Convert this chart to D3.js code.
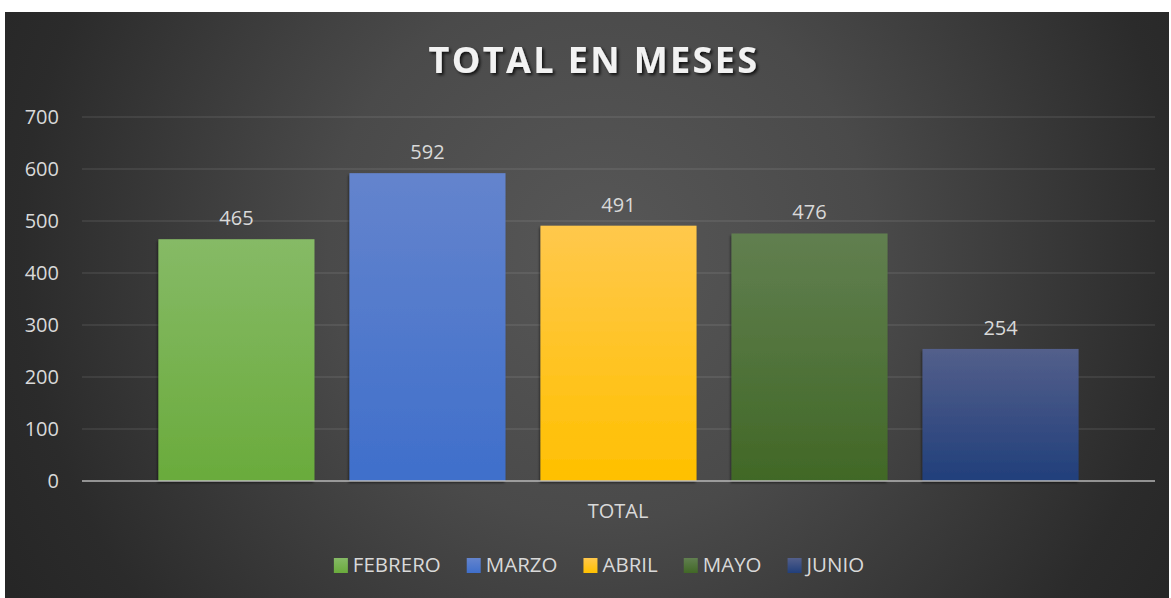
<!DOCTYPE html>
<html>
<head>
<meta charset="utf-8">
<script src="https://cdn.jsdelivr.net/npm/d3@7"></script>
<style>
  body { margin: 0; background: #fff; }
  text { font-family: "Open Sans", "Noto Sans", sans-serif; }
</style>
</head>
<body>
<div id="chart"></div>
<script>
"use strict";

// data
var months = ["FEBRERO", "MARZO", "ABRIL", "MAYO", "JUNIO"];
var totals = [465, 592, 491, 476, 254];
var yTicks = [0, 100, 200, 300, 400, 500, 600, 700];
var category = "TOTAL";
var title = "TOTAL EN MESES";
// [top, bottom] of each bar gradient
var barColors = [
  ["#86ba66", "#6aab3c"],
  ["#6484cd", "#3f6fcb"],
  ["#ffc84c", "#ffc000"],
  ["#617f50", "#416826"],
  ["#535f8b", "#213f7b"]
];

var width = 1171, height = 598;
var svg = d3.select("#chart").append("svg")
  .attr("width", width)
  .attr("height", height);

var defs = svg.append("defs");

var bg = defs.append("radialGradient")
  .attr("id", "bg")
  .attr("gradientUnits", "userSpaceOnUse")
  .attr("cx", 600).attr("cy", 250).attr("r", 680);
bg.append("stop").attr("offset", 0).attr("stop-color", "#575757");
bg.append("stop").attr("offset", 0.4).attr("stop-color", "#4a4a4a");
bg.append("stop").attr("offset", 0.85).attr("stop-color", "#2b2b2b");
bg.append("stop").attr("offset", 1).attr("stop-color", "#262626");

barColors.forEach(function(c, i) {
  var g = defs.append("linearGradient")
    .attr("id", "bar" + i)
    .attr("x1", 0).attr("y1", 0).attr("x2", 0).attr("y2", 1);
  g.append("stop").attr("offset", 0).attr("stop-color", c[0]);
  g.append("stop").attr("offset", 1).attr("stop-color", c[1]);
});

var shadow = defs.append("filter").attr("id", "shadow")
  .attr("x", "-10%").attr("y", "-10%").attr("width", "130%").attr("height", "140%");
shadow.append("feDropShadow")
  .attr("dx", 2).attr("dy", 2).attr("stdDeviation", 1.5)
  .attr("flood-color", "#000").attr("flood-opacity", 0.75);

var barShadow = defs.append("filter").attr("id", "barShadow")
  .attr("x", "-5%").attr("y", "-5%").attr("width", "110%").attr("height", "110%");
barShadow.append("feDropShadow")
  .attr("dx", -1).attr("dy", 2).attr("stdDeviation", 0.8)
  .attr("flood-color", "#000").attr("flood-opacity", 0.5);

// chart area
svg.append("rect")
  .attr("x", 5).attr("y", 12)
  .attr("width", 1164).attr("height", 586)
  .attr("fill", "url(#bg)");

var y = d3.scaleLinear().domain([0, 700]).range([481, 117]);
var x = d3.scaleBand().domain(months)
  .range([82, 1155])
  .paddingInner(0.183)
  .paddingOuter(0.4);

// gridlines
svg.append("g")
  .selectAll("line")
  .data(yTicks.slice(1))
  .enter().append("line")
  .attr("x1", 82).attr("x2", 1155)
  .attr("y1", function(d) { return y(d); })
  .attr("y2", function(d) { return y(d); })
  .attr("stroke", "#ffffff")
  .attr("stroke-opacity", 0.1)
  .attr("stroke-width", 1.5);

// y axis labels
var yAxis = d3.axisLeft(y).tickValues(yTicks).tickSize(0).tickPadding(0);
svg.append("g")
  .attr("transform", "translate(59,0)")
  .call(yAxis)
  .call(function(g) {
    g.select(".domain").remove();
    g.selectAll("text")
      .attr("font-size", 20)
      .attr("fill", "#d9d9d9")
      .attr("font-family", "'Open Sans', sans-serif");
  });

// bars
svg.append("g")
  .selectAll("rect")
  .data(totals)
  .enter().append("rect")
  .attr("x", function(d, i) { return x(months[i]); })
  .attr("y", function(d) { return y(d); })
  .attr("width", x.bandwidth())
  .attr("height", function(d) { return y(0) - y(d); })
  .attr("fill", function(d, i) { return "url(#bar" + i + ")"; })
  .attr("filter", "url(#barShadow)");

// data labels
svg.append("g")
  .selectAll("text")
  .data(totals)
  .enter().append("text")
  .attr("x", function(d, i) { return x(months[i]) + x.bandwidth() / 2; })
  .attr("y", function(d) { return y(d) - 14; })
  .attr("text-anchor", "middle")
  .attr("font-size", 20)
  .attr("fill", "#d9d9d9")
  .text(function(d) { return d; });

// baseline axis
svg.append("line")
  .attr("x1", 82).attr("x2", 1155)
  .attr("y1", y(0)).attr("y2", y(0))
  .attr("stroke", "#bfbfbf")
  .attr("stroke-opacity", 0.7)
  .attr("stroke-width", 2);

// category label
svg.append("text")
  .attr("x", 618).attr("y", 518)
  .attr("text-anchor", "middle")
  .attr("font-size", 20)
  .attr("fill", "#d9d9d9")
  .text(category);

// title
svg.append("text")
  .attr("x", 594).attr("y", 73)
  .attr("text-anchor", "middle")
  .attr("font-size", 36)
  .attr("font-weight", "bold")
  .attr("letter-spacing", 2.4)
  .attr("fill", "#f2f2f2")
  .attr("filter", "url(#shadow)")
  .text(title);

// legend
var legend = svg.append("g");
var items = legend.selectAll("g")
  .data(months)
  .enter().append("g");
items.append("rect")
  .attr("width", 14).attr("height", 15)
  .attr("y", 558)
  .attr("fill", function(d, i) { return "url(#bar" + i + ")"; });
items.append("text")
  .attr("x", 19).attr("y", 572)
  .attr("font-size", 20.5)
  .attr("fill", "#d9d9d9")
  .text(function(d) { return d; });

var widths = [];
items.each(function() {
  widths.push(19 + d3.select(this).select("text").node().getComputedTextLength());
});
var gap = 26;
var total = d3.sum(widths) + gap * (widths.length - 1);
var cursor = 599 - total / 2;
items.attr("transform", function(d, i) {
  var t = "translate(" + cursor + ",0)";
  cursor += widths[i] + gap;
  return t;
});
</script>
</body>
</html>
